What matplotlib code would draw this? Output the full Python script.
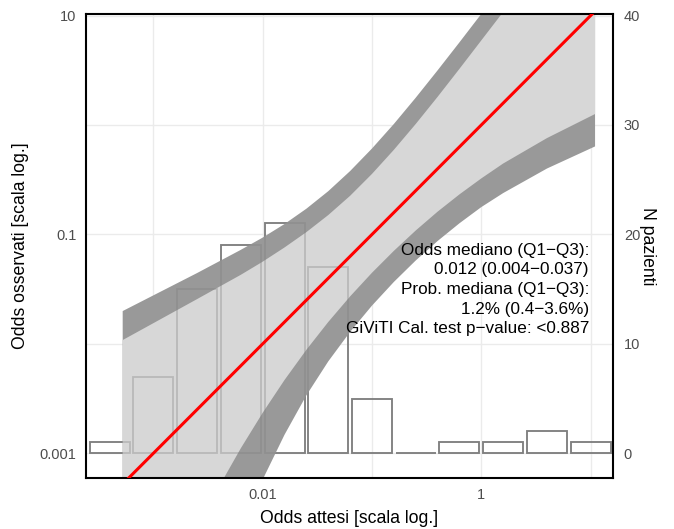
import numpy as np
import matplotlib.pyplot as plt
from matplotlib.ticker import FixedLocator, FixedFormatter, NullLocator

plt.rcParams['font.family'] = ['Liberation Sans', 'DejaVu Sans']

# histogram of expected odds: log10 bin edges and patients per bin
bin_edges_log = [-3.6, -3.2, -2.8, -2.4, -2.0, -1.6, -1.2, -0.8, -0.4, 0.0, 0.4, 0.8, 1.2]
n_patients = [1, 7, 15, 19, 21, 17, 5, 0, 1, 1, 2, 1]

# calibration belt (log10 odds)
belt_u = [-3.28, -3.0, -2.6, -2.2, -2.0, -1.8, -1.6, -1.4, -1.2, -1.0,
          -0.8, -0.6, -0.4, -0.2, 0.0, 0.2, 0.6, 1.04]
outer_hi = [-1.70, -1.557, -1.353, -1.141, -1.029, -0.905, -0.765, -0.605, -0.421, -0.215,
            0.009, 0.249, 0.499, 0.755, 1.015, 1.275, 1.795, 2.367]
inner_hi = [-1.965, -1.811, -1.591, -1.369, -1.249, -1.119, -0.979, -0.823, -0.647, -0.447,
            -0.227, 0.009, 0.257, 0.513, 0.773, 1.033, 1.553, 2.125]
inner_lo = [-4.97, -4.418, -3.658, -2.954, -2.63, -2.33, -2.054, -1.80, -1.566, -1.35,
            -1.15, -0.964, -0.792, -0.634, -0.488, -0.352, -0.12, 0.10]
outer_lo = [-6.406, -5.678, -4.658, -3.69, -3.24, -2.83, -2.47, -2.16, -1.89, -1.65,
            -1.434, -1.238, -1.06, -0.898, -0.75, -0.622, -0.398, -0.196]

stats_text = ("Odds mediano (Q1\u2212Q3):\n0.012 (0.004\u22120.037)\n"
              "Prob. mediana (Q1\u2212Q3):\n1.2% (0.4\u22123.6%)\n"
              "GiViTI Cal. test p\u2212value: <0.887")

LOG_XLIM = (-3.613, 1.201)
LOG_YLIM = (-3.228, 1.015)


def count_to_odds(n):
    # right axis: 10 patients per decade, 0 patients at odds 0.001
    return 10 ** (np.asarray(n, dtype=float) / 10 - 3)


fig = plt.figure(figsize=(6.74, 5.29), dpi=100)
ax = fig.add_axes([0.128, 0.0958, 0.781, 0.878])
ax.set_xscale('log')
ax.set_yscale('log')

# histogram bars (drawn twice: under the belt, and faintly over it)
gap = 0.017
edges = np.array(bin_edges_log)
left = 10 ** (edges[:-1] + gap)
right = 10 ** (edges[1:] - gap)
tops = count_to_odds(n_patients)
for z, a in [(1, 1.0), (3, 0.35)]:
    ax.bar(left, tops - 0.001, width=right - left, bottom=0.001, align='edge',
           fill=False, edgecolor='#7f7f7f', linewidth=1.3, alpha=a, zorder=z)

bx = 10 ** np.array(belt_u)
ax.fill_between(bx, 10 ** np.array(outer_lo), 10 ** np.array(outer_hi),
                color='#999999', linewidth=0, zorder=2)
ax.fill_between(bx, 10 ** np.array(inner_lo), 10 ** np.array(inner_hi),
                color='#d7d7d7', linewidth=0, zorder=2)

xlim = (10 ** LOG_XLIM[0], 10 ** LOG_XLIM[1])
ylim = (10 ** LOG_YLIM[0], 10 ** LOG_YLIM[1])
ax.plot(xlim, xlim, color='red', linewidth=2.2, zorder=4)

ax.text(0.955, 0.4063, stats_text, transform=ax.transAxes, ha='right', va='center',
        multialignment='right', fontsize=12.3, linespacing=1.39, zorder=5)

ax.set_xlim(xlim)
ax.set_ylim(ylim)

decades = [1e-3, 1e-2, 1e-1, 1, 10]
ax.xaxis.set_major_locator(FixedLocator(decades))
ax.xaxis.set_major_formatter(FixedFormatter(['', '0.01', '', '1', '']))
ax.yaxis.set_major_locator(FixedLocator(decades))
ax.yaxis.set_major_formatter(FixedFormatter(['0.001', '', '0.1', '', '10']))
ax.xaxis.set_minor_locator(NullLocator())
ax.yaxis.set_minor_locator(NullLocator())
ax.grid(True, color='#ebebeb', linewidth=1.0)
ax.set_axisbelow(True)
ax.tick_params(length=0, labelsize=10.5, labelcolor='#4d4d4d', pad=7)
for s in ax.spines.values():
    s.set_linewidth(1.5)
    s.set_color('black')

# right axis with patient counts (linear, same positions as the decades)
ax2 = ax.twinx()
ax2.set_ylim(10 * (LOG_YLIM[0] + 3), 10 * (LOG_YLIM[1] + 3))
ax2.set_yticks([0, 10, 20, 30, 40])
ax2.tick_params(length=0, labelsize=10.5, labelcolor='#4d4d4d', pad=8)
for s in ax2.spines.values():
    s.set_visible(False)
ax2.set_ylabel('N pazienti', rotation=-90, fontsize=12.7, labelpad=-1, va='bottom')

ax.set_xlabel('Odds attesi [scala log.]', fontsize=12.7, labelpad=6)
ax.set_ylabel('Odds osservati [scala log.]', fontsize=12.7, labelpad=8)

fig.savefig('out.png', dpi=100)
